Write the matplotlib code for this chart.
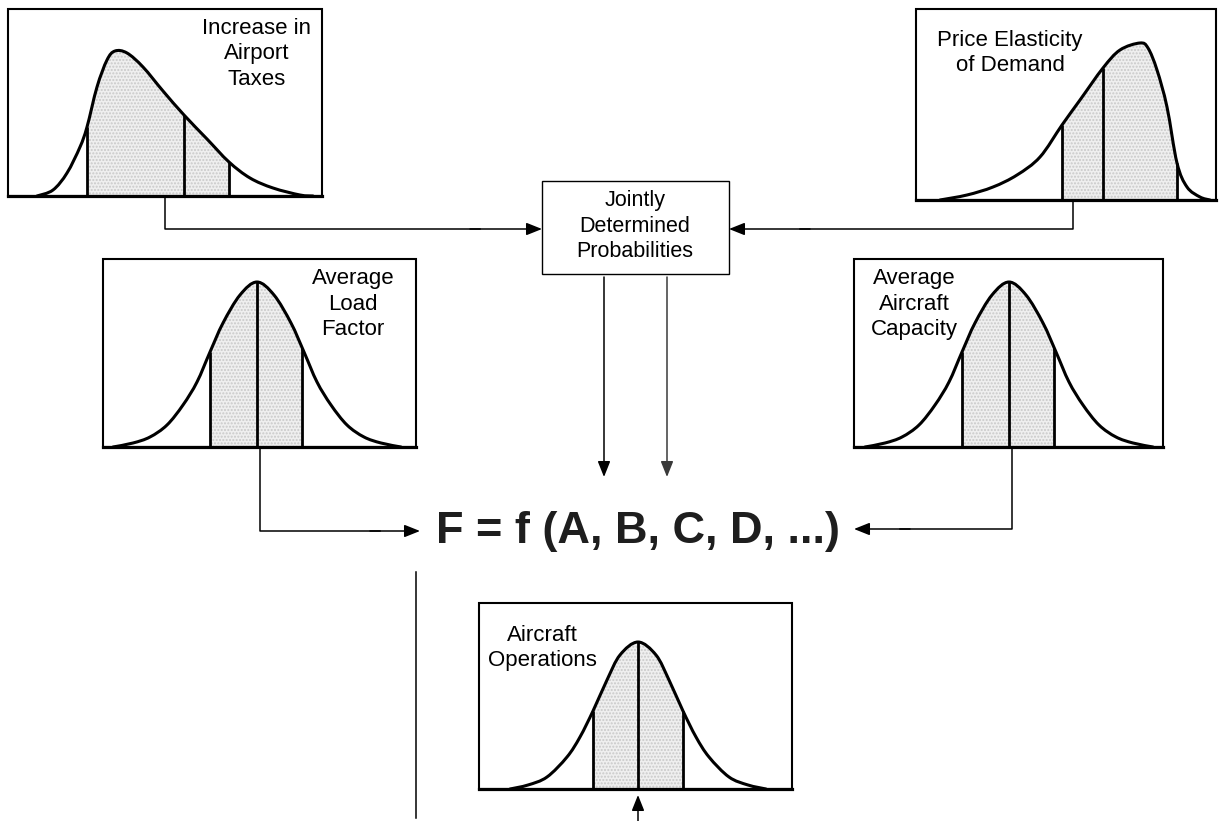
import matplotlib
matplotlib.use("Agg")
import matplotlib.pyplot as plt
import numpy as np
from matplotlib.path import Path
from matplotlib.patches import PathPatch, Rectangle

plt.rcParams['font.family'] = ['Liberation Sans', 'DejaVu Sans']

# ---- data (pixel units, heights above each baseline) ----
# panel boxes: left, top, right, baseline
taxes_box = (8, 9, 322, 196)
elastic_box = (916, 9, 1216, 200)
load_box = (103, 259, 416, 447)
capacity_box = (854, 259, 1163, 447)
ops_box = (479, 603, 792, 789)

# skewed curve, airport taxes (absolute x, height)
taxes_x = [37, 53, 67, 80, 87, 97, 107, 115, 127, 143, 163, 184, 207, 229, 250, 273, 300, 313]
taxes_h = [0, 6, 23, 49, 69, 109, 136, 145, 143, 129, 105, 81, 57, 34, 18, 8, 1, 0]
taxes_cuts = [87, 184, 229]

# skewed curve, price elasticity
elastic_x = [940, 967, 993, 1017, 1040, 1062, 1080, 1103, 1120, 1140, 1148, 1157, 1167, 1177, 1187, 1200, 1210]
elastic_h = [0, 5, 13, 25, 43, 75, 100, 132, 150, 157, 152, 130, 93, 37, 13, 3, 0]
elastic_cuts = [1062, 1103, 1177]

# bell curve used for load factor and aircraft capacity (offset from peak, height)
bell_dx = [-144, -124, -107, -90, -74, -60, -47, -34, -17, 0, 17, 34, 47, 60, 74, 90, 107, 124, 144]
bell_h = [0, 4, 10, 22, 42, 65, 95, 124, 152, 165, 152, 124, 95, 65, 42, 22, 10, 4, 0]
bell_cuts = [-47, 0, 45]
load_peak = 257
capacity_peak = 1009

# bell curve for aircraft operations
ops_dx = [-128, -110, -91, -71, -58, -45, -31, -18, 0, 18, 31, 45, 58, 71, 91, 110, 128]
ops_h = [0, 4, 12, 32, 52, 78, 109, 134, 147, 134, 109, 78, 52, 32, 12, 4, 0]
ops_cuts = [-45, 0, 45]
ops_peak = 638

taxes_label = "Increase in\nAirport\nTaxes"
elastic_label = "Price Elasticity\nof Demand"
load_label = "Average\nLoad\nFactor"
capacity_label = "Average\nAircraft\nCapacity"
ops_label = "Aircraft\nOperations"
joint_label = "Jointly\nDetermined\nProbabilities"
formula = "F = f (A, B, C, D, ...)"


def smooth_path(xs, ys):
    # catmull-rom through the read points, as cubic bezier segments
    pts = np.column_stack([xs, ys]).astype(float)
    verts = [pts[0]]
    codes = [Path.MOVETO]
    n = len(pts)
    for i in range(n - 1):
        p0 = pts[i - 1] if i > 0 else pts[i]
        p1 = pts[i]
        p2 = pts[i + 1]
        p3 = pts[i + 2] if i + 2 < n else pts[i + 1]
        verts += [p1 + (p2 - p0) / 6, p2 - (p3 - p1) / 6, p2]
        codes += [Path.CURVE4] * 3
    return verts, codes


def panel(ax, box, xs, hs, cuts, label, label_xy):
    left, top, right, base = box
    xs = np.asarray(xs, float)
    ys = base - np.asarray(hs, float)
    verts, codes = smooth_path(xs, ys)

    # area under the curve, used to clip the stippled band
    area = PathPatch(Path(verts + [(xs[-1], base), (xs[0], base), (xs[0], base)],
                          codes + [Path.LINETO, Path.LINETO, Path.CLOSEPOLY]),
                     facecolor='none', edgecolor='none', transform=ax.transData)
    ax.add_patch(area)
    band = Rectangle((cuts[0], top), cuts[-1] - cuts[0], base - top,
                     facecolor='#efefef', edgecolor='#c9c9c9', hatch='.....', lw=0, zorder=1)
    ax.add_patch(band)
    band.set_clip_path(area)

    ax.add_patch(PathPatch(Path(verts, codes), facecolor='none', edgecolor='black',
                           lw=2.2, zorder=3, capstyle='round', joinstyle='round'))
    for c in cuts:
        ax.plot([c, c], [base, base - np.interp(c, xs, hs)], color='black', lw=2.0,
                zorder=3, solid_capstyle='butt')

    ax.add_patch(Rectangle((left, top), right - left, base - top, facecolor='none',
                           edgecolor='black', lw=1.5, zorder=4))
    ax.plot([left, right], [base, base], color='black', lw=2.3, zorder=4)
    ax.text(label_xy[0], label_xy[1], label, ha='center', va='center', fontsize=16,
            linespacing=1.3, zorder=5)


def arrow(ax, start, tip, color='black'):
    ax.annotate('', xy=tip, xytext=start,
                arrowprops=dict(arrowstyle='-|>,head_length=0.95,head_width=0.38',
                                color=color, lw=1.1, shrinkA=0, shrinkB=0))


fig = plt.figure(figsize=(12.23, 8.21), dpi=100)
ax = fig.add_axes([0, 0, 1, 1])
ax.set_xlim(0, 1223)
ax.set_ylim(821, 0)
ax.axis('off')

panel(ax, taxes_box, taxes_x, taxes_h, taxes_cuts, taxes_label, (257, 54))
panel(ax, elastic_box, elastic_x, elastic_h, elastic_cuts, elastic_label, (1010, 53))
panel(ax, load_box, np.add(bell_dx, load_peak), bell_h, list(np.add(bell_cuts, load_peak)),
      load_label, (353, 304))
panel(ax, capacity_box, np.add(bell_dx, capacity_peak), bell_h,
      list(np.add(bell_cuts, capacity_peak)), capacity_label, (914, 304))
panel(ax, ops_box, np.add(ops_dx, ops_peak), ops_h, list(np.add(ops_cuts, ops_peak)),
      ops_label, (542, 648))

# jointly determined box
ax.add_patch(Rectangle((542, 181), 729 - 542, 274 - 181, facecolor='white',
                       edgecolor='black', lw=1.0, zorder=4))
ax.text(635, 226, joint_label, ha='center', va='center', fontsize=15.5, linespacing=1.3,
        zorder=5)

# connectors into the joint box
ax.plot([165, 165, 480], [196, 229, 229], color='black', lw=1.1)
arrow(ax, (470, 229), (542, 229))
ax.plot([1073, 1073, 800], [200, 229, 229], color='black', lw=1.1)
arrow(ax, (810, 229), (729, 229))

# down arrows from the joint box
arrow(ax, (604, 277), (604, 477))
arrow(ax, (667, 277), (667, 477), color='#3a3a3a')

# connectors into the formula
ax.plot([260, 260, 380], [447, 531, 531], color='black', lw=1.1)
arrow(ax, (370, 531), (420, 531))
ax.plot([1012, 1012, 900], [447, 529, 529], color='black', lw=1.1)
arrow(ax, (910, 529), (854, 529))

ax.text(638, 531, formula, ha='center', va='center', fontsize=32.5, fontweight='bold',
        color='#1e1e1e')

# lower lines
ax.plot([416, 416], [572, 818], color='black', lw=1.1)
arrow(ax, (638, 821), (638, 795))

fig.savefig('out.png', dpi=100, facecolor='white')
